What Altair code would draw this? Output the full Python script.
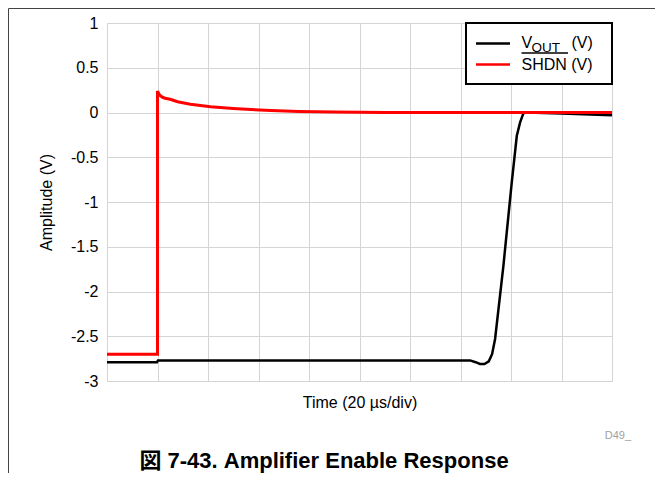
import altair as alt
import pandas as pd

# ---- data ----
vout_t = [0, 19.8, 20.2, 60, 100, 143.8, 146, 147.7, 149.5, 151.2, 152.5, 153.7,
          157, 160.3, 162.3, 163.6, 164.9, 166, 180, 200]
vout_v = [-2.79, -2.79, -2.77, -2.77, -2.77, -2.77, -2.79, -2.81, -2.81, -2.78, -2.70, -2.53,
          -1.71, -0.78, -0.26, -0.11, -0.01, 0.0, -0.01, -0.03]

shdn_t = [0, 20, 20, 20.5, 21, 22, 23, 25, 28, 33, 41, 50, 57, 65, 76, 90, 110, 140, 170, 200]
shdn_v = [-2.70, -2.70, 0.24, 0.21, 0.19, 0.17, 0.16, 0.148, 0.12, 0.093, 0.063, 0.045,
          0.033, 0.022, 0.011, 0.005, 0.0, 0.0, 0.0, 0.0]

y_ticks = [-3, -2.5, -2, -1.5, -1, -0.5, 0, 0.5, 1]
x_ticks = [0, 20, 40, 60, 80, 100, 120, 140, 160, 180, 200]

x_title = "Time (20 µs/div)"
y_title = "Amplitude (V)"
caption = "図 7-43. Amplifier Enable Response"
code_label = "D49_"

FONT = "Liberation Sans, Arial, Noto Sans CJK JP"
W, H = 505, 358

vout_df = pd.DataFrame({"t": vout_t, "v": vout_v, "i": list(range(len(vout_t)))})
shdn_df = pd.DataFrame({"t": shdn_t, "v": shdn_v, "i": list(range(len(shdn_t)))})
one = pd.DataFrame({"a": [0]})

x_enc = alt.X("t:Q", scale=alt.Scale(domain=[0, 200], nice=False, zero=False),
              axis=alt.Axis(values=x_ticks, labels=False, ticks=False, domain=False,
                            grid=True, gridColor="#d4d4d4", gridWidth=1,
                            title=x_title, titleFontSize=16, titleFont=FONT,
                            titleFontWeight="normal", titleColor="black", titlePadding=13))
y_enc = alt.Y("v:Q", scale=alt.Scale(domain=[-3, 1], nice=False, zero=False),
              axis=alt.Axis(values=y_ticks, labelExpr="datum.value + ''", ticks=False,
                            domain=False, grid=True, gridColor="#d4d4d4", gridWidth=1,
                            labelFontSize=16, labelFont=FONT, labelColor="black",
                            labelPadding=9,
                            title=y_title, titleFontSize=16, titleFont=FONT,
                            titleFontWeight="normal", titleColor="black", titlePadding=16))

frame = alt.Chart(one).mark_rect(fill="white", fillOpacity=0, stroke="#444444", strokeWidth=1).encode(
    x=alt.value(-98.5), x2=alt.value(560), y=alt.value(-14.5), y2=alt.value(470))

vout_line = alt.Chart(vout_df).mark_line(color="black", strokeWidth=2.5).encode(
    x=x_enc, y=y_enc, order="i:Q")
shdn_line = alt.Chart(shdn_df).mark_line(color="#ff0000", strokeWidth=3).encode(
    x=x_enc, y=y_enc, order="i:Q")

leg_box = alt.Chart(one).mark_rect(fill="white", stroke="black", strokeWidth=2).encode(
    x=alt.value(359), x2=alt.value(505), y=alt.value(0), y2=alt.value(61))
leg_l1 = alt.Chart(one).mark_rule(color="black", strokeWidth=2.5).encode(
    x=alt.value(369), x2=alt.value(403), y=alt.value(20.5))
leg_l2 = alt.Chart(one).mark_rule(color="#ff0000", strokeWidth=2.5).encode(
    x=alt.value(369), x2=alt.value(403), y=alt.value(41.5))


def txt(s, x, y, size, **kw):
    return alt.Chart(one).mark_text(text=s, align=kw.pop("align", "left"), baseline="alphabetic",
                                    fontSize=size, font=FONT, color=kw.pop("color", "black"),
                                    **kw).encode(x=alt.value(x), y=alt.value(y))


t_v = txt("V", 414.5, 24.5, 16)
t_out = txt("OUT", 424.5, 28.5, 13.5)
t_vu = txt("(V)", 464.5, 24.5, 16)
t_shdn = txt("SHDN (V)", 414.5, 46.5, 16)
overline = alt.Chart(one).mark_rule(color="black", strokeWidth=1.5).encode(
    x=alt.value(414.5), x2=alt.value(461), y=alt.value(30))

t_code = txt(code_label, 524, 416, 11, align="right", color="#a0a0a0")
t_cap = txt(caption, 217, 445, 22, align="center", fontWeight="bold")

chart = alt.layer(
    frame, vout_line, shdn_line, leg_box, leg_l1, leg_l2,
    t_v, t_out, t_vu, t_shdn, overline, t_code, t_cap
).properties(
    width=W, height=H,
    autosize=alt.AutoSizeParams(type="none"),
    padding={"left": 99, "top": 15, "right": 43, "bottom": 92},
).configure_view(
    stroke="black", strokeWidth=3
).configure(background="white")

chart.save("out.html", embed_options={"renderer": "svg", "actions": False})
